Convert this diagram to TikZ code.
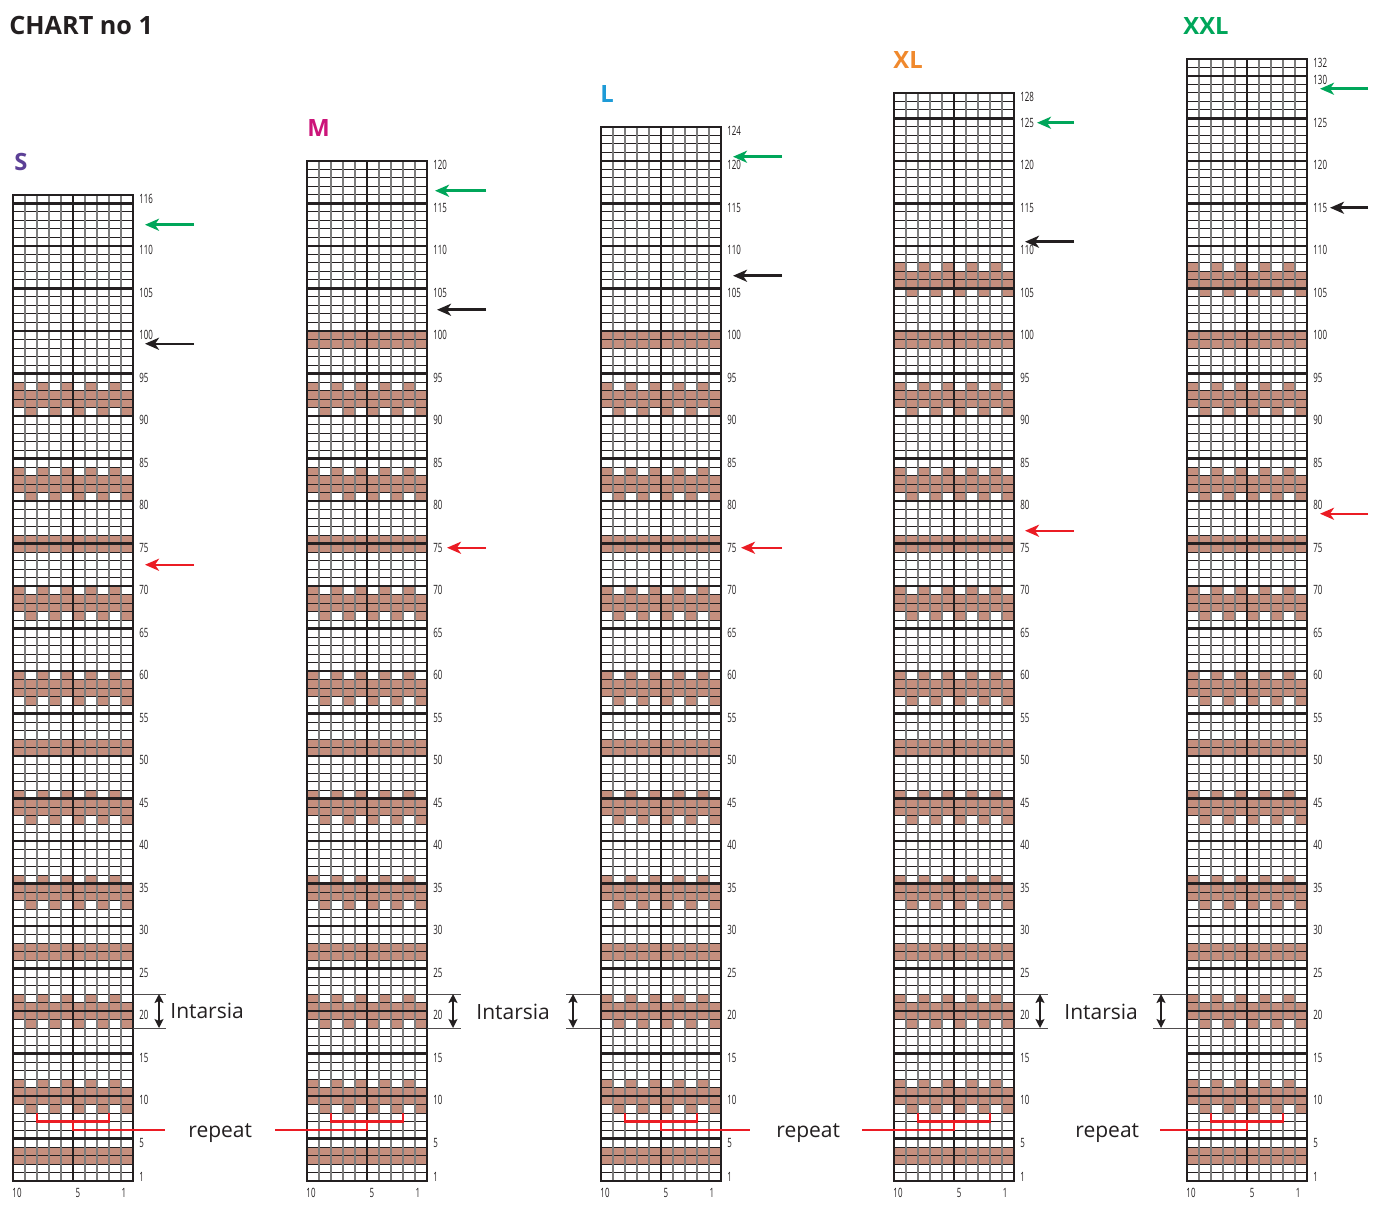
\documentclass[tikz,border=0pt]{standalone}
\usepackage{fontspec}
\setmainfont{Open Sans}
\newfontfamily\numfont[FakeStretch=0.62]{Open Sans}
\usetikzlibrary{arrows.meta}
\definecolor{knit}{RGB}{197,143,126}
\definecolor{ink}{RGB}{35,31,32}
\definecolor{kgreen}{RGB}{0,166,90}
\definecolor{kred}{RGB}{235,28,36}
\definecolor{kpurple}{RGB}{92,64,150}
\definecolor{kmagenta}{RGB}{204,20,121}
\definecolor{kblue}{RGB}{30,155,215}
\definecolor{korange}{RGB}{240,137,45}
\definecolor{kgrid}{RGB}{125,125,125}
\tikzset{
  hthin/.style={draw=ink,line width=0.5pt},
  vthin/.style={draw=kgrid,line width=0.7pt},
  thickl/.style={draw=ink,line width=1.25pt},
  rowlab/.style={anchor=west,inner sep=0pt,font=\numfont\fontsize{6.4}{7}\selectfont,text=ink},
  collab/.style={anchor=center,inner sep=0pt,font=\numfont\fontsize{6.4}{7}\selectfont,text=ink},
  sizelab/.style={anchor=west,inner sep=0pt,font=\bfseries\fontsize{11.9}{13}\selectfont},
  textlab/.style={anchor=west,inner sep=0pt,font=\fontsize{10.5}{12}\selectfont,text=ink},
  rowarr/.style={line width=1.25pt,-{Stealth[length=7pt,width=6pt,inset=2pt]}},
  tick/.style={draw=ink!80,line width=0.5pt},
  dblarr/.style={draw=ink,line width=0.8pt,{Stealth[length=4.5pt,width=4.5pt,inset=1pt]}-{Stealth[length=4.5pt,width=4.5pt,inset=1pt]}},
  reparr/.style={draw=kred,line width=1.1pt},
}
\newcommand\kfull[2]{%
  \pgfmathsetmacro\ya{1181-(#2)*8.5}\pgfmathsetmacro\yb{\ya+8.5}%
  \fill[knit] (#1,\ya) rectangle ({#1+120},\yb);}
\newcommand\kalt[3]{%
  \pgfmathsetmacro\ya{1181-(#2)*8.5}\pgfmathsetmacro\yb{\ya+8.5}%
  \foreach \k in {0,2,4,6,8}{%
    \pgfmathsetmacro\xa{#1+120-(\k+#3)*12}%
    \fill[knit] (\xa,\ya) rectangle ({\xa+12},\yb);}}
\newcommand\kband[2]{\kalt{#1}{#2}{1}\kfull{#1}{#2+1}\kfull{#1}{#2+2}\kalt{#1}{#2+3}{2}}
\newcommand\kstripe[2]{\kfull{#1}{#2}\kfull{#1}{#2+1}}
\newcommand\kbase[1]{%
  \kstripe{#1}{3}\kband{#1}{9}\kband{#1}{19}%
  \kstripe{#1}{27}\kband{#1}{33}\kband{#1}{43}%
  \kstripe{#1}{51}\kband{#1}{57}\kband{#1}{67}%
  \kstripe{#1}{75}\kband{#1}{81}\kband{#1}{91}}
\newcommand\kgrid[3]{% x0, N, name
  \pgfmathsetmacro\ytop{1181-(#2)*8.5}%
  \pgfmathtruncatemacro\nm{#2-1}%
  \foreach \r in {1,...,\nm}{\draw[hthin] (#1,{1181-\r*8.5}) -- ({#1+120},{1181-\r*8.5});}
  \foreach \s in {1,...,9}{\draw[vthin] ({#1+\s*12},\ytop) -- ({#1+\s*12},1181);}
  \pgfmathtruncatemacro\nf{floor((#2-1)/5)}%
  \foreach \k in {1,...,\nf}{\draw[thickl] (#1,{1181-\k*42.5}) -- ({#1+120},{1181-\k*42.5});}
  \draw[thickl] ({#1+60},\ytop) -- ({#1+60},1181);
  \draw[thickl] (#1,\ytop) rectangle ({#1+120},1181);
  \node[rowlab] (#3-r1) at ({#1+126},{1181-0.5*8.5}) {1};
  \pgfmathtruncatemacro\nl{floor((#2)/5)}%
  \foreach \k in {1,...,\nl}{%
    \pgfmathtruncatemacro\rr{5*\k}%
    \pgfmathtruncatemacro\gap{#2-\rr}%
    \ifnum\gap=1\relax\else
      \node[rowlab] (#3-r\rr) at ({#1+126},{1181-(\rr-0.5)*8.5}) {\rr};
    \fi}
  \pgfmathtruncatemacro\md{mod(#2,5)}%
  \ifnum\md=0\relax\else
    \node[rowlab] (#3-rtop) at ({#1+126},{1181-(#2-0.5)*8.5}) {#2};
  \fi
  \node[collab] (#3-c10) at ({#1+4},1193) {10};
  \node[collab] (#3-c5) at ({#1+65},1193) {5};
  \node[collab] (#3-c1) at ({#1+111},1193) {1};
}
\newcommand\karrow[5]{% name, colour, xstart, xend, row
  \pgfmathsetmacro\ya{1181-(#5-0.5)*8.5}%
  \coordinate (#1a) at (#3,\ya);
  \coordinate (#1b) at (#4,\ya);
  \draw[rowarr,draw=#2,fill=#2] (#1a) -- (#1b);}
\newcommand\krepeat[3]{% name, x0, xend
  \coordinate (#1p) at ({#2+24},1113);
  \coordinate (#1q) at ({#2+96},1113);
  \coordinate (#1e) at (#3,1130);
  \draw[reparr] (#1p) -- ({#2+24},1121.5) -- ({#2+96},1121.5) -- (#1q);
  \draw[reparr] ({#2+60},1121.5) -- ({#2+60},1130) -- (#1e);}
\newcommand\kintar[4]{% name, xa, xb, xarrow
  \coordinate (#1t) at (#4,994);
  \coordinate (#1b) at (#4,1028);
  \draw[tick] (#2,994) -- (#3,994);
  \draw[tick] (#2,1028) -- (#3,1028);
  \draw[dblarr] (#1t) -- (#1b);}
\begin{document}
\begin{tikzpicture}[x=0.5pt,y=-0.5pt]
\fill[white] (0,0) rectangle (1379,1208);
\path[use as bounding box] (0,0) rectangle (1379,1208);
% fills
\kbase{13}
\kbase{307}\kstripe{307}{99}
\kbase{601}\kstripe{601}{99}
\kbase{894}\kstripe{894}{99}\kband{894}{105}
\kbase{1187}\kstripe{1187}{99}\kband{1187}{105}
% grids
\kgrid{13}{116}{S}
\kgrid{307}{120}{M}
\kgrid{601}{124}{L}
\kgrid{894}{128}{XL}
\kgrid{1187}{132}{XXL}
% titles
\node[anchor=west,inner sep=0pt,font=\bfseries\fontsize{12.6}{14}\selectfont,text=ink] (title) at (9,26) {CHART no 1};
\node[sizelab,text=kpurple] (tS) at (14,162) {S};
\node[sizelab,text=kmagenta] (tM) at (307,128) {M};
\node[sizelab,text=kblue] (tL) at (600,94) {L};
\node[sizelab,text=korange] (tXL) at (893,60) {XL};
\node[sizelab,text=kgreen] (tXXL) at (1183,26) {XXL};
% arrows
\karrow{Sg}{kgreen}{194}{145}{113}
\karrow{Sk}{ink}{194}{145}{99}
\karrow{Sr}{kred}{194}{145}{73}
\karrow{Mg}{kgreen}{486}{435}{117}
\karrow{Mk}{ink}{486}{437}{103}
\karrow{Mr}{kred}{486}{447}{75}
\karrow{Lg}{kgreen}{782}{733}{121}
\karrow{Lk}{ink}{782}{733}{107}
\karrow{Lr}{kred}{782}{741}{75}
\karrow{XLg}{kgreen}{1074}{1037}{125}
\karrow{XLk}{ink}{1074}{1025}{111}
\karrow{XLr}{kred}{1074}{1025}{77}
\karrow{XXLg}{kgreen}{1368}{1320}{129}
\karrow{XXLk}{ink}{1368}{1330}{115}
\karrow{XXLr}{kred}{1368}{1320}{79}
% intarsia
\kintar{iS}{133}{166}{159}
\kintar{iM}{427}{461}{453}
\kintar{iL}{566}{601}{573}
\kintar{iXL}{1014}{1048}{1040}
\kintar{iXXL}{1153}{1187}{1161}
\node[textlab] (intS) at (170,1011) {Intarsia};
\node[textlab] (intM) at (476,1012) {Intarsia};
\node[textlab] (intXL) at (1064,1012) {Intarsia};
% repeat
\krepeat{rS}{13}{165}
\krepeat{rM}{307}{275}
\krepeat{rL}{601}{750}
\krepeat{rXL}{894}{862}
\krepeat{rXXL}{1187}{1160}
\node[textlab] (repS) at (188,1133) {repeat};
\node[textlab] (repL) at (776,1133) {repeat};
\node[textlab] (repXXL) at (1075,1133) {repeat};
\end{tikzpicture}
\end{document}
